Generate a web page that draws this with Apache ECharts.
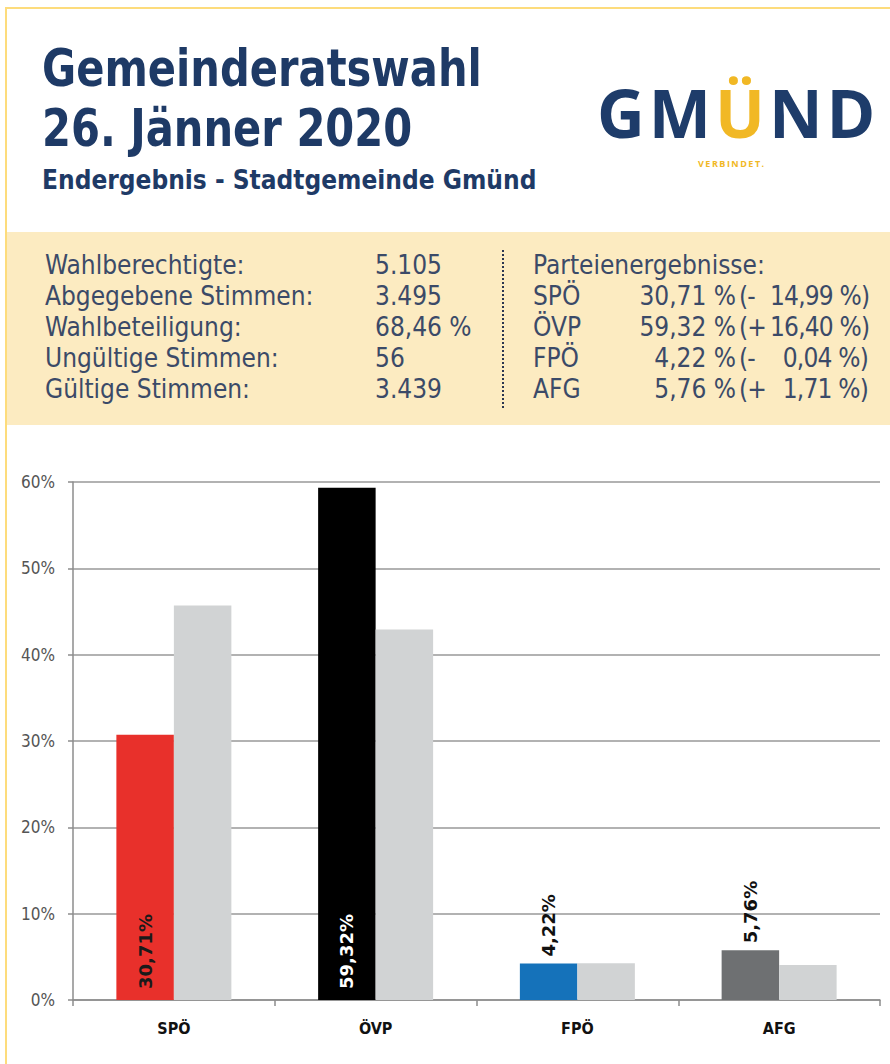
<!DOCTYPE html>
<html>
<head>
<meta charset="utf-8">
<script src="https://cdn.jsdelivr.net/npm/echarts@6/dist/echarts.min.js"></script>
<style>
  body { margin: 0; background: #fff; }
  #page { position: relative; width: 890px; height: 1064px; overflow: hidden; font-family: 'DejaVu Sans Condensed', 'DejaVu Sans', sans-serif; }
  .border-top { position: absolute; left: 5px; top: 7px; width: 885px; height: 2px; background: #fddc7c; }
  .border-left { position: absolute; left: 5px; top: 7px; width: 2px; height: 1057px; background: #fddc7c; }
  .title { position: absolute; left: 42px; color: #1e3a66; font-weight: bold; white-space: nowrap; transform-origin: left top; }
  .logo { position: absolute; left: 597px; top: 82px; line-height: 60px; font-family: 'Open Sans', sans-serif; font-weight: bold; font-size: 66px; letter-spacing: 4px; color: #1e3c6a; white-space: nowrap; }
  .logo span { color: #f1b825; }
  .tagline { position: absolute; left: 698px; top: 158px; line-height: 12px; font-family: 'Open Sans', sans-serif; font-weight: bold; font-size: 9px; letter-spacing: 1.5px; color: #f1b825; }
  #box { position: absolute; left: 7px; top: 232px; width: 883px; height: 193px; background: #fcebc1; }
  .row { position: absolute; font-size: 26px; color: #3b4a68; white-space: nowrap; line-height: 31px; }
  .chg { letter-spacing: -0.8px; }
  .dots { position: absolute; left: 502px; top: 250px; height: 158px; border-left: 2px dotted #2a3550; }
  #chart { position: absolute; left: 0; top: 430px; width: 890px; height: 634px; }
</style>
</head>
<body>
<div id="page">
  <div class="border-top"></div>
  <div class="border-left"></div>
  <div class="title" style="top:38px;font-size:52px;transform:scaleX(0.89);">Gemeinderatswahl</div>
  <div class="title" style="top:98px;font-size:52px;transform:scaleX(0.89);">26. Jänner 2020</div>
  <div class="title" style="top:165px;font-size:26px;">Endergebnis - Stadtgemeinde Gmünd</div>
  <div class="logo">GM<span>Ü</span>ND</div>
  <div class="tagline">VERBINDET.</div>
  <div id="box"></div>
  <div id="stats"></div>
  <div class="dots"></div>
  <div id="chart"></div>
</div>
<script>
// info box
const statLabels = ['Wahlberechtigte:', 'Abgegebene Stimmen:', 'Wahlbeteiligung:', 'Ungültige Stimmen:', 'Gültige Stimmen:'];
const statValues = ['5.105', '3.495', '68,46 %', '56', '3.439'];
const partyResults = ['30,71 %', '59,32 %', '4,22 %', '5,76 %'];
const partyChangeSign = ['-', '+', '-', '+'];
const partyChange = ['14,99 %', '16,40 %', '0,04 %', '1,71 %'];

// chart
const categories = ['SPÖ', 'ÖVP', 'FPÖ', 'AFG'];
const result2020 = [30.71, 59.32, 4.22, 5.76];
const result2015 = [45.70, 42.92, 4.26, 4.05];
const partyColors = ['#e8302b', '#000000', '#1572ba', '#6e7072'];
const labelColors = ['#1a1a1a', '#ffffff', '#111111', '#111111'];
const yTicks = [0, 10, 20, 30, 40, 50, 60];

let html = '';
const rowTop = 250, rowH = 31;
statLabels.forEach((l, i) => {
  html += `<div class="row" style="left:45px;top:${rowTop + i * rowH}px">${l}</div>`;
  html += `<div class="row" style="left:375px;top:${rowTop + i * rowH}px">${statValues[i]}</div>`;
});
html += `<div class="row" style="left:533px;top:${rowTop}px">Parteienergebnisse:</div>`;
categories.forEach((c, i) => {
  const t = rowTop + (i + 1) * rowH;
  html += `<div class="row" style="left:533px;top:${t}px">${c}</div>`;
  html += `<div class="row" style="left:598px;width:138px;text-align:right;top:${t}px">${partyResults[i]}</div>`;
  html += `<div class="row chg" style="left:739px;top:${t}px">(${partyChangeSign[i]}</div>`;
  html += `<div class="row chg" style="left:770px;width:98px;text-align:right;top:${t}px">${partyChange[i]})</div>`;
});
document.getElementById('stats').innerHTML = html;

const chart = echarts.init(document.getElementById('chart'), null, { renderer: 'svg' });

chart.setOption({
  animation: false,
  grid: { left: 73, right: 10, top: 52, bottom: 64 },
  xAxis: {
    type: 'category',
    data: categories,
    axisLine: { lineStyle: { color: '#8c8c8c', width: 1.5 } },
    axisTick: { show: true, length: 6, lineStyle: { color: '#8c8c8c', width: 1.5 } },
    axisLabel: { margin: 20, color: '#111', fontWeight: 'bold', fontSize: 16, fontFamily: 'DejaVu Sans Condensed, DejaVu Sans, sans-serif' }
  },
  yAxis: {
    type: 'value',
    min: yTicks[0],
    max: yTicks[yTicks.length - 1],
    interval: 10,
    axisLine: { show: true, lineStyle: { color: '#8c8c8c', width: 1.5 } },
    axisTick: { show: true, length: 5, lineStyle: { color: '#8c8c8c', width: 1.5 } },
    axisLabel: { margin: 18, color: '#555', fontSize: 17, fontFamily: 'DejaVu Sans Condensed, DejaVu Sans, sans-serif', formatter: '{value}%' },
    splitLine: { lineStyle: { color: '#999', width: 1.5 } }
  },
  series: [
    {
      type: 'bar',
      barGap: '0%',
      barCategoryGap: '43%',
      data: result2020.map((v, i) => {
        const inside = v > 20;
        return {
          value: v,
          itemStyle: { color: partyColors[i] },
          label: {
            show: true,
            position: inside ? 'insideBottom' : 'top',
            distance: inside ? 11 : 7,
            rotate: 90,
            align: 'left',
            verticalAlign: 'middle',
            color: labelColors[i],
            fontFamily: 'DejaVu Sans, sans-serif',
            fontWeight: 'bold',
            fontSize: 18,
            formatter: () => v.toFixed(2).replace('.', ',') + '%'
          }
        };
      })
    },
    {
      type: 'bar',
      data: result2015,
      itemStyle: { color: '#d1d3d4' }
    }
  ]
});

window.addEventListener('resize', function () {
  chart.resize();
});
</script>
</body>
</html>
